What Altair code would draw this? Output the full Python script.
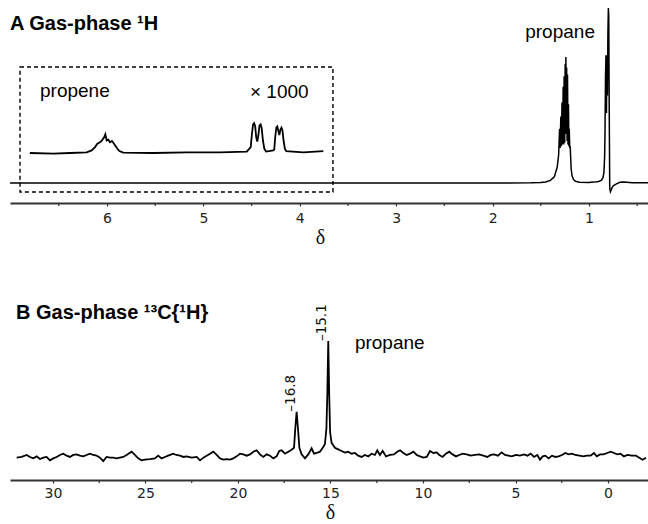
import altair as alt
import pandas as pd

# ---------------- data ----------------
# 1H gas-phase spectrum (propane); intensity scaled so the tallest line = 100
h1_ppm = [7.006, 6.0, 5.0, 4.0, 3.0, 2.0, 1.60, 1.50, 1.45, 1.40, 1.36, 1.33,
          1.315, 1.305, 1.300, 1.292, 1.287, 1.280, 1.274, 1.268, 1.263, 1.258,
          1.252, 1.247, 1.243, 1.240, 1.236, 1.232, 1.227, 1.223, 1.218, 1.213,
          1.209, 1.205, 1.200, 1.195, 1.185, 1.175, 1.16, 1.14, 1.10, 1.0, 0.95,
          0.90, 0.87, 0.855, 0.845, 0.838, 0.834, 0.829, 0.824, 0.819, 0.814,
          0.809, 0.804, 0.799, 0.795, 0.790, 0.785, 0.778, 0.770, 0.760, 0.745,
          0.72, 0.68, 0.64, 0.55, 0.388]
h1_int = [0, 0, 0, 0, 0, 0, 0.1, 0.3, 0.6, 1.5, 3.5, 9,
          16, 31, 20, 38, 21, 46, 22, 55, 22, 61,
          23, 68, 28, 72, 30, 66, 24, 62, 22, 45,
          21, 31, 20, 21, 8, 4, 2, 1, 0.4, 0.3, 0.5,
          0.9, 1.6, 3, 6, 15, 29, 60, 73, 40, 73,
          50, 85, 100, 95, 40, -3, -5, -4, -2.5, -1.5,
          -0.6, 0.4, 0.5, 0.2, 0.1]

# propene region, shown x 1000
inset_ppm = [6.80, 6.557, 6.384, 6.211, 6.159, 6.124, 6.10, 6.073, 6.052, 6.031,
             6.017, 6.003, 5.986, 5.969, 5.948, 5.927, 5.899, 5.872, 5.831, 5.52,
             5.173, 4.83, 4.55, 4.509, 4.498, 4.485, 4.474, 4.463, 4.452, 4.441,
             4.430, 4.418, 4.406, 4.395, 4.382, 4.368, 4.35, 4.275, 4.265, 4.255,
             4.243, 4.233, 4.222, 4.212, 4.200, 4.190, 4.180, 4.168, 4.155, 4.14,
             3.963, 3.756]
inset_int = [0, -0.4, 0, 0.4, 1.5, 3.4, 5.3, 6.1, 7.2, 8.8,
             10.7, 7.2, 7.6, 6.1, 6.9, 5.3, 3.0, 1.1, 0.2, 0,
             0.4, 0.4, 0.8, 3.4, 10, 16.3, 17.1, 15.5, 9, 6.5,
             10, 15.8, 16.4, 14, 7, 2.5, 0.8, 1.5, 2, 9,
             14.6, 15.2, 12.5, 10.3, 13.5, 14.5, 13, 7, 2.5, 1,
             0.4, 1.1]

# 13C{1H} gas-phase spectrum; tallest line (15.1) = 100
c13_ppm = [31.96, 31.69, 31.42, 31.24, 31.06, 30.88, 30.70, 30.52, 30.34, 30.16,
           29.98, 29.80, 29.62, 29.44, 29.26, 29.08, 28.90, 28.72, 28.54, 28.36,
           28.18, 28.00, 27.82, 27.64, 27.46, 27.28, 27.10, 26.92, 26.74, 26.56,
           26.38, 26.20, 26.02, 25.75, 25.57, 25.39, 25.21, 25.03, 24.76, 24.49,
           24.31, 24.13, 23.95, 23.77, 23.50, 23.33, 23.13, 22.95, 22.77, 22.50,
           22.23, 22.05, 21.87, 21.69, 21.51, 21.33, 21.15, 20.97, 20.79, 20.61,
           20.43, 20.25, 20.07, 19.89, 19.71, 19.53, 19.35, 19.17, 18.99, 18.81,
           18.63, 18.45, 18.27, 18.09, 17.91, 17.77, 17.64, 17.46, 17.28, 17.10,
           16.97, 16.90, 16.83, 16.76, 16.68, 16.56, 16.38, 16.20, 16.02, 15.89,
           15.75, 15.57, 15.39, 15.30, 15.22, 15.17, 15.12, 15.07, 15.02, 14.94,
           14.76, 14.58, 14.40, 14.22, 14.04, 13.86, 13.68, 13.50, 13.32, 13.14,
           12.96, 12.78, 12.60, 12.47, 12.33, 12.18, 12.00, 11.78, 11.57, 11.39,
           11.24, 11.06, 10.88, 10.70, 10.52, 10.34, 10.16, 9.98, 9.80, 9.62,
           9.44, 9.26, 9.12, 8.94, 8.76, 8.58, 8.40, 8.22, 8.04, 7.86,
           7.64, 7.42, 7.19, 6.96, 6.74, 6.52, 6.34, 6.16, 5.95, 5.75,
           5.57, 5.39, 5.21, 4.97, 4.76, 4.54, 4.36, 4.18, 4.00, 3.82,
           3.68, 3.53, 3.39, 3.21, 3.03, 2.85, 2.67, 2.49, 2.31, 2.13,
           1.95, 1.77, 1.55, 1.33, 1.15, 0.94, 0.76, 0.61, 0.43, 0.25,
           0.04, -0.14, -0.32, -0.50, -0.68, -0.86, -1.05, -1.28, -1.51, -1.69,
           -1.87, -2.05]
c13_int = [0.3, 0.9, 2.6, 0.9, -0.3, 1.4, -0.9, 0.3, 0.9, -2.0,
           -0.3, 0.9, 2.6, 3.7, 2.0, 0.9, 2.6, 3.1, 2.0, 1.4,
           2.6, 3.7, 2.6, 2.0, 0.3, -2.6, 0.9, 0.3, 0.3, -0.3,
           0.3, 0.9, 2.6, 5.4, 2.6, -0.3, -2.0, -1.4, -0.9, -0.3,
           2.0, -0.3, 0.9, 2.0, 3.7, 2.6, 2.0, 0.9, 1.4, 0.3,
           0.9, -2.0, 0.3, 2.0, 3.7, 5.4, 2.6, -0.3, -1.4, -0.9,
           -1.4, -0.3, 1.4, 3.7, 3.1, 2.0, 3.1, 5.4, 6.6, 3.1,
           0.9, 3.1, 2.0, -0.3, 1.4, 6.0, 6.6, 3.7, 5.4, 7.1,
           8.8, 25.9, 39.6, 25.9, 8.8, 3.1, -0.3, 3.1, 8.3, 3.7,
           4.3, 5.4, 9.5, 12, 25, 55, 100, 55, 22, 13,
           8.8, 7.4, 6.0, 4.6, 5.4, 3.7, 4.3, 2.0, 0.9, 2.6,
           1.4, 3.7, 2.6, 6.6, 2.6, 6.0, 1.4, 2.6, 3.1, 5.4,
           6.6, 4.3, 2.6, 3.7, 5.4, 2.6, 1.4, 0.3, 0.9, 6.0,
           4.3, 4.8, 2.6, 0.9, 3.7, 5.4, 3.1, 1.4, 2.6, 3.7,
           3.1, 2.0, 2.6, 3.1, 2.0, 0.9, 2.6, 3.1, 2.0, 4.8,
           2.6, 2.0, 1.4, 2.6, 2.0, 3.1, 2.0, 3.7, 0.9, 2.6,
           -1.4, 1.4, 2.0, -0.3, 2.0, 0.9, 1.4, 2.6, 4.3, 3.1,
           3.7, 2.6, 2.0, 1.4, 2.0, 2.0, 4.3, 1.4, 3.1, 3.1,
           4.3, 5.4, 4.3, 3.1, 3.7, 1.4, 2.6, 2.0, 2.0, 0.3,
           -1.4, 0.3]

# axis ticks
h1_major = [6, 5, 4, 3, 2, 1]
h1_minor = [6.5, 5.5, 4.5, 3.5, 2.5, 1.5, 0.5]
c13_major = [30, 25, 20, 15, 10, 5, 0]
c13_minor = [27.5, 22.5, 17.5, 12.5, 7.5, 2.5]

c13_peaks = [16.8, 15.1]
c13_peak_pos = [16.83, 15.12]
c13_peak_int = [39.6, 100]

# inset frame (data coordinates)
box_ppm = [6.902, 3.656]
box_int = [66.3, -5.14]

W = 638
HA = 203
HB = 189
LINE_FONT = "Liberation Sans"
TICK_FONT = "DejaVu Sans"
AXC = "#333"


def make_axis(values, size, pad, title_x):
    return alt.Axis(values=values, format="d", labelOverlap=False, labelFlush=False,
                    grid=False, domainColor=AXC, domainWidth=2, tickColor=AXC, tickWidth=1.2,
                    tickSize=3, labelFont=TICK_FONT, labelFontSize=size, labelColor="#222",
                    labelPadding=pad, titleFont="Liberation Serif", titleFontSize=20,
                    titleFontWeight="normal", titleColor="#111", titlePadding=2,
                    titleX=title_x)


# ---------------- panel A ----------------
axisA = make_axis(h1_major, 14, 5, 310)
scA = alt.Scale(domain=[0.388, 7.006], reverse=True, nice=False, zero=False)
yA = alt.Scale(domain=[-11.43, 104.57], nice=False, zero=False)
yInset = alt.Scale(domain=[-28.57, 87.43], nice=False, zero=False)


def xA(field):
    return alt.X(field, type="quantitative", scale=scA, axis=axisA, title="δ")


dfA = pd.DataFrame({"ppm": h1_ppm, "I": h1_int})
dfIn = pd.DataFrame({"ppm": inset_ppm, "I": inset_int})
dfBox = pd.DataFrame({"ppm": [box_ppm[0]], "ppm2": [box_ppm[1]], "I": [box_int[0]], "I2": [box_int[1]]})
dfMinA = pd.DataFrame({"ppm": h1_minor})
dfAnnAc = pd.DataFrame({"ppm": [1.30], "I": [82.9], "t": ["propane"]})
dfAnnAl = pd.DataFrame({"ppm": [6.695, 4.517], "I": [49.1, 48.6], "t": ["propene", "× 1000"]})

lineA = alt.Chart(dfA).mark_line(color="black", strokeWidth=1.5, clip=True).encode(
    x=xA("ppm"), y=alt.Y("I:Q", scale=yA, axis=None))
lineIn = alt.Chart(dfIn).mark_line(color="black", strokeWidth=1.8, clip=True).encode(
    x=xA("ppm"), y=alt.Y("I:Q", scale=yInset, axis=None))
boxA = alt.Chart(dfBox).mark_rect(fillOpacity=0, stroke="black", strokeWidth=1.4,
                                  strokeDash=[4, 3]).encode(
    x=xA("ppm"), x2="ppm2", y=alt.Y("I:Q", scale=yA, axis=None), y2="I2")
minA = alt.Chart(dfMinA).mark_rule(color=AXC, strokeWidth=1.2).encode(
    x=xA("ppm"), y=alt.value(HA), y2=alt.value(HA + 3))
annA_c = alt.Chart(dfAnnAc).mark_text(
    font=LINE_FONT, fontSize=19, align="center", baseline="alphabetic", color="black").encode(
    x=xA("ppm"), y=alt.Y("I:Q", scale=yA, axis=None), text="t:N")
annA_l = alt.Chart(dfAnnAl).mark_text(
    font=LINE_FONT, fontSize=19, align="left", baseline="alphabetic", color="black").encode(
    x=xA("ppm"), y=alt.Y("I:Q", scale=yA, axis=None), text="t:N")
titleA = alt.Chart(pd.DataFrame({"t": ["A Gas-phase ¹H"]})).mark_text(
    font=LINE_FONT, fontSize=20, fontWeight="bold", align="left", baseline="alphabetic",
    color="black").encode(x=alt.value(0), y=alt.value(30), text="t:N")

panelA = alt.layer(lineA, lineIn, boxA, minA, annA_c, annA_l, titleA).resolve_scale(
    y="independent").properties(width=W, height=HA)

# ---------------- panel B ----------------
axisB = make_axis(c13_major, 14, 3, 320)
scB = alt.Scale(domain=[-2.16, 32.32], reverse=True, nice=False, zero=False)
yB = alt.Scale(domain=[-18.8, 142.8], nice=False, zero=False)


def xB(field):
    return alt.X(field, type="quantitative", scale=scB, axis=axisB, title="δ")


dfB = pd.DataFrame({"ppm": c13_ppm, "I": c13_int})
dfMinB = pd.DataFrame({"ppm": c13_minor})
dfPk = pd.DataFrame({"ppm": c13_peak_pos, "I": c13_peak_int,
                     "t": ["–" + f"{v:.1f}" for v in c13_peaks]})
dfAnnB = pd.DataFrame({"ppm": [13.68], "I": [93.2], "t": ["propane"]})

lineB = alt.Chart(dfB).mark_line(color="black", strokeWidth=1.8, clip=True).encode(
    x=xB("ppm"), y=alt.Y("I:Q", scale=yB, axis=None))
minB = alt.Chart(dfMinB).mark_rule(color=AXC, strokeWidth=1.2).encode(
    x=xB("ppm"), y=alt.value(HB), y2=alt.value(HB + 3))
pkB = alt.Chart(dfPk).mark_text(font=TICK_FONT, fontSize=13.5, angle=270, align="left",
                                baseline="middle", dy=-6, color="#111").encode(
    x=xB("ppm"), y=alt.Y("I:Q", scale=yB, axis=None), text="t:N")
annB = alt.Chart(dfAnnB).mark_text(font=LINE_FONT, fontSize=19, align="left",
                                   baseline="alphabetic", color="black").encode(
    x=xB("ppm"), y=alt.Y("I:Q", scale=yB, axis=None), text="t:N")
titleB = alt.Chart(pd.DataFrame({"t": ["B Gas-phase ¹³C{¹H}"]})).mark_text(
    font=LINE_FONT, fontSize=20, fontWeight="bold", align="left", baseline="alphabetic",
    color="black").encode(x=alt.value(6), y=alt.value(28), text="t:N")

panelB = alt.layer(lineB, minB, pkB, annB, titleB).properties(width=W, height=HB)

chart = alt.vconcat(panelA, panelB, spacing=44).properties(
    padding={"left": 10, "top": 0, "right": 0, "bottom": 0},
    background="white"
).configure_view(stroke=None)

chart.save("out.html", embed_options={"renderer": "svg", "actions": False})
